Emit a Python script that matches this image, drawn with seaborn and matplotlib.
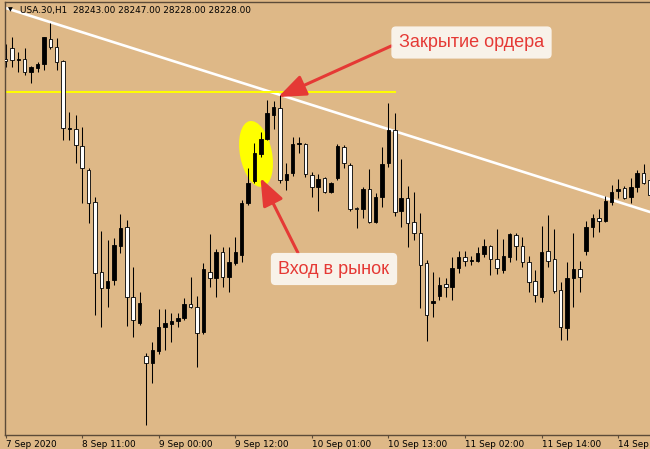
import matplotlib
matplotlib.use("Agg")
import matplotlib.pyplot as plt
from matplotlib.patches import Ellipse
import numpy as np
import pandas as pd
import seaborn as sns

# USA.30 H1 bars (O, H, L, C)
opens = [28364, 28375, 28363, 28364, 28351, 28355, 28359, 28384, 28376, 28362,
         28294, 28294, 28277, 28253, 28221, 28151, 28135, 28143, 28177, 28196,
         28126, 28100, 28067, 28060, 28072, 28096, 28099, 28102, 28105, 28119,
         28116, 28091, 28151, 28145, 28171, 28146, 28160, 28168, 28220, 28242,
         28269, 28284, 28308, 28315, 28243, 28250, 28279, 28279, 28248, 28236,
         28245, 28231, 28245, 28276, 28258, 28215, 28214, 28234, 28201, 28226,
         28260, 28293, 28212, 28225, 28201, 28190, 28160, 28120, 28127, 28139,
         28136, 28155, 28166, 28162, 28162, 28169, 28177, 28164, 28153, 28166,
         28188, 28177, 28161, 28142, 28126, 28172, 28164, 28133, 28095, 28145,
         28154, 28172, 28196, 28205, 28202, 28221, 28232, 28235, 28226, 28236,
         28250, 28243]
highs = [28379, 28386, 28371, 28375, 28357, 28361, 28386, 28400, 28385, 28363,
         28311, 28308, 28296, 28255, 28226, 28192, 28183, 28185, 28209, 28203,
         28156, 28131, 28070, 28081, 28114, 28114, 28110, 28110, 28125, 28146,
         28127, 28160, 28189, 28174, 28176, 28176, 28186, 28223, 28255, 28280,
         28291, 28323, 28322, 28328, 28260, 28286, 28286, 28280, 28251, 28249,
         28246, 28241, 28279, 28278, 28260, 28216, 28236, 28254, 28230, 28276,
         28320, 28310, 28264, 28237, 28231, 28210, 28163, 28151, 28146, 28145,
         28166, 28172, 28172, 28167, 28176, 28184, 28178, 28194, 28184, 28190,
         28190, 28186, 28167, 28153, 28197, 28208, 28194, 28141, 28161, 28190,
         28162, 28202, 28209, 28214, 28227, 28238, 28244, 28237, 28245, 28253,
         28259, 28247]
lows = [28356, 28356, 28351, 28348, 28340, 28351, 28353, 28374, 28353, 28283,
        28283, 28260, 28220, 28200, 28108, 28096, 28116, 28138, 28170, 28097,
        28086, 28098, 27998, 28040, 28069, 28073, 28081, 28096, 28103, 28115,
        28056, 28089, 28136, 28126, 28136, 28131, 28158, 28161, 28218, 28240,
        28266, 28283, 28294, 28240, 28233, 28247, 28270, 28246, 28226, 28212,
        28230, 28230, 28243, 28255, 28212, 28195, 28205, 28200, 28200, 28216,
        28256, 28207, 28196, 28176, 28183, 28115, 28082, 28106, 28123, 28126,
        28123, 28150, 28157, 28158, 28161, 28166, 28148, 28149, 28150, 28161,
        28163, 28156, 28131, 28121, 28121, 28156, 28130, 28083, 28083, 28116,
        28131, 28168, 28186, 28191, 28201, 28218, 28225, 28224, 28220, 28231,
        28239, 28228]
closes = [28362, 28363, 28364, 28351, 28356, 28359, 28386, 28376, 28361, 28295,
          28295, 28278, 28255, 28220, 28150, 28135, 28142, 28178, 28195, 28126,
          28103, 28120, 28060, 28073, 28096, 28100, 28102, 28105, 28119, 28116,
          28090, 28154, 28145, 28171, 28146, 28161, 28171, 28220, 28240, 28270,
          28284, 28310, 28316, 28243, 28249, 28279, 28280, 28249, 28236, 28244,
          28231, 28240, 28277, 28260, 28214, 28214, 28234, 28201, 28226, 28259,
          28293, 28211, 28225, 28200, 28190, 28158, 28108, 28122, 28138, 28136,
          28155, 28166, 28162, 28163, 28170, 28177, 28164, 28155, 28167, 28189,
          28177, 28161, 28141, 28128, 28171, 28162, 28132, 28096, 28145, 28154,
          28146, 28196, 28205, 28202, 28222, 28231, 28234, 28225, 28236, 28250,
          28240, 28228]

tick_bars = [0, 12, 24, 36, 48, 60, 72, 84, 96]
tick_labels = ["7 Sep 2020", "8 Sep 11:00", "9 Sep 00:00", "9 Sep 12:00",
               "10 Sep 01:00", "10 Sep 13:00", "11 Sep 02:00", "11 Sep 14:00",
               "14 Sep"]

# chart objects: trend line anchors, horizontal level
trend_points = [(0, 28415), (101, 28211)]
level_price = 28331
level_span = [-1, 61.2]

bg = "#DEB887"
frame = "#5c4b38"
red = "#e53935"

df = pd.DataFrame({"open": opens, "high": highs, "low": lows, "close": closes})
df["bar"] = np.arange(len(df))
df["bull"] = df["close"] >= df["open"]

sns.set_theme(style="ticks", rc={"axes.facecolor": bg, "figure.facecolor": bg})
plt.rcParams["font.family"] = ["DejaVu Sans"]

fig = plt.figure(figsize=(6.5, 4.49), dpi=100)
ax = fig.add_axes([5 / 650, 14 / 449, 645 / 650, 433 / 449])
ax.set_xlim(-0.094, 101.0)
ax.set_ylim(27988, 28421)

# lines behind the candles
ax.axline(trend_points[0], trend_points[1], color="white", lw=1.9, zorder=1)
ax.hlines(level_price, level_span[0], level_span[1], color="#ffff00", lw=1.4, zorder=1)

# wicks
ax.vlines(df["bar"], df["low"], df["high"], color="black", lw=0.75, zorder=2)
# bodies: black = up, white = down (terminal colours)
body_bottom = df[["open", "close"]].min(axis=1)
body_height = (df["close"] - df["open"]).abs()
ax.bar(df["bar"], body_height, bottom=body_bottom, width=0.55,
       color=np.where(df["bull"], "black", "white"), edgecolor="black",
       linewidth=0.6, zorder=3)

# yellow highlight around the entry candles
cx, cy = ax.transData.transform((39.25, 28269)) / fig.dpi
ax.add_patch(Ellipse((cx, cy), 0.32, 0.67, angle=11, transform=fig.dpi_scale_trans,
                     facecolor="#ffff00", edgecolor="none", zorder=1.5))

# axes frame
ax.spines["right"].set_visible(False)
for side in ["top", "bottom", "left"]:
    ax.spines[side].set_color(frame)
    ax.spines[side].set_linewidth(1.0)
ax.set_yticks([])
ax.set_xticks(tick_bars)
ax.set_xticklabels(tick_labels, ha="left", fontsize=6.4, color="black")
ax.tick_params(axis="x", direction="out", length=2.2, width=0.8, color=frame, pad=1.5)
ax.set_xlabel("")
ax.set_ylabel("")

# header
fig.text(10 / 650, 1 - 10 / 449, "▼", fontsize=4.5, ha="center", va="center", color="black")
fig.text(20 / 650, 1 - 10 / 449, "USA.30,H1  28243.00 28247.00 28228.00 28228.00",
         fontsize=6.4, ha="left", va="center", color="black")

box = dict(boxstyle="round,pad=0.42,rounding_size=0.25", fc=(1, 1, 1, 0.82), ec="none")
ax.annotate("Закрытие ордера", xy=(42.74, 28326), xycoords="data",
            xytext=(471.5, 449 - 42.5), textcoords="figure pixels",
            ha="center", va="center", fontsize=13, color=red, family="Liberation Sans",
            bbox=box, zorder=6,
            arrowprops=dict(arrowstyle="-|>,head_length=1.4,head_width=0.55",
                            mutation_scale=12, color=red, lw=2.2,
                            shrinkA=0, shrinkB=0, relpos=(0, 0.5)))
ax.annotate("Вход в рынок", xy=(39.95, 28245), xycoords="data",
            xytext=(334, 449 - 269), textcoords="figure pixels",
            ha="center", va="center", fontsize=13, color=red, family="Liberation Sans",
            bbox=box, zorder=6,
            arrowprops=dict(arrowstyle="-|>,head_length=1.4,head_width=0.55",
                            mutation_scale=12, color=red, lw=2.2,
                            shrinkA=0, shrinkB=0, relpos=(0.21, 1)))

fig.savefig("out.png", dpi=100, facecolor=bg)
